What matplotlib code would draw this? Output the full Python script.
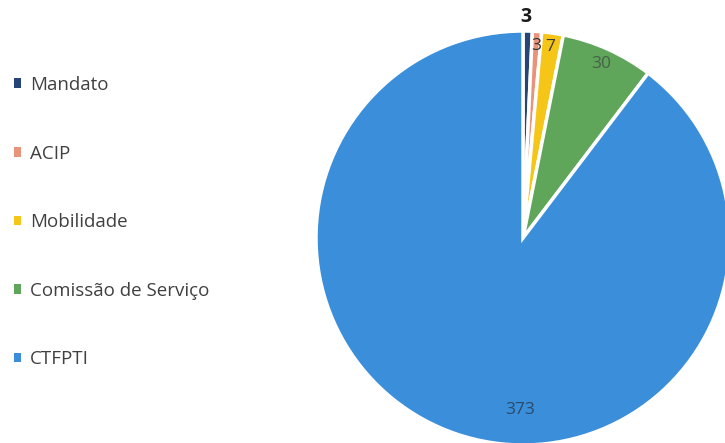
import numpy as np
import matplotlib.pyplot as plt
from matplotlib.patches import Patch

# Regime de vinculo
categorias = ['Mandato', 'ACIP', 'Mobilidade', 'Comissão de Serviço', 'CTFPTI']
valores = [3, 3, 7, 30, 373]
cores = ['#264478', '#E8937A', '#F5C518', '#5FA55A', '#3A8EDA']
cores_rotulo = ['#1a1a1a', '#333333', '#3a3a3a', '#46634a', '#2b4a6b']

plt.rcParams['font.family'] = ['Open Sans', 'DejaVu Sans']

fig = plt.figure(figsize=(7.25, 4.43), dpi=100)

# pie centre ~ (523, 238) px, radius ~207 px
cx, cy, r = 523, 238, 207
W, H = 725, 443
ax = fig.add_axes([(cx - r) / W, (H - cy - r) / H, 2 * r / W, 2 * r / H])
wedges, _ = ax.pie(valores, colors=cores, startangle=90, counterclock=False,
                   radius=1.0, wedgeprops=dict(edgecolor='white', linewidth=2.5))
for w in wedges:
    w.set_clip_on(False)
ax.set_xlim(-1, 1)
ax.set_ylim(-1, 1)
ax.set_aspect('equal')
ax.axis('off')

# data labels
total = sum(valores)
inicio = np.cumsum([0] + valores[:-1]) / total * 360
meio = inicio + np.array(valores) / total * 180
dist = [1.07, 0.93, 0.93, 0.92, 0.83]
meio[0] = 0.8
meio[4] = 181
for i, v in enumerate(valores):
    a = np.radians(90 - meio[i])
    ax.text(dist[i] * np.cos(a), dist[i] * np.sin(a), str(v),
            ha='center', va='center', fontsize=14 if i == 0 else 12.5,
            fontweight='bold' if i == 0 else 'normal',
            color=cores_rotulo[i], clip_on=False)

handles = [Patch(facecolor=c, edgecolor='none') for c in cores]
fig.legend(handles, categorias, loc='upper left', bbox_to_anchor=(0.005, 0.852),
           frameon=False, fontsize=13.5, labelspacing=2.7, handlelength=0.4,
           handleheight=0.4, handletextpad=0.45, labelcolor='#404040',
           borderaxespad=0.15)

fig.savefig('out.png', dpi=100)
